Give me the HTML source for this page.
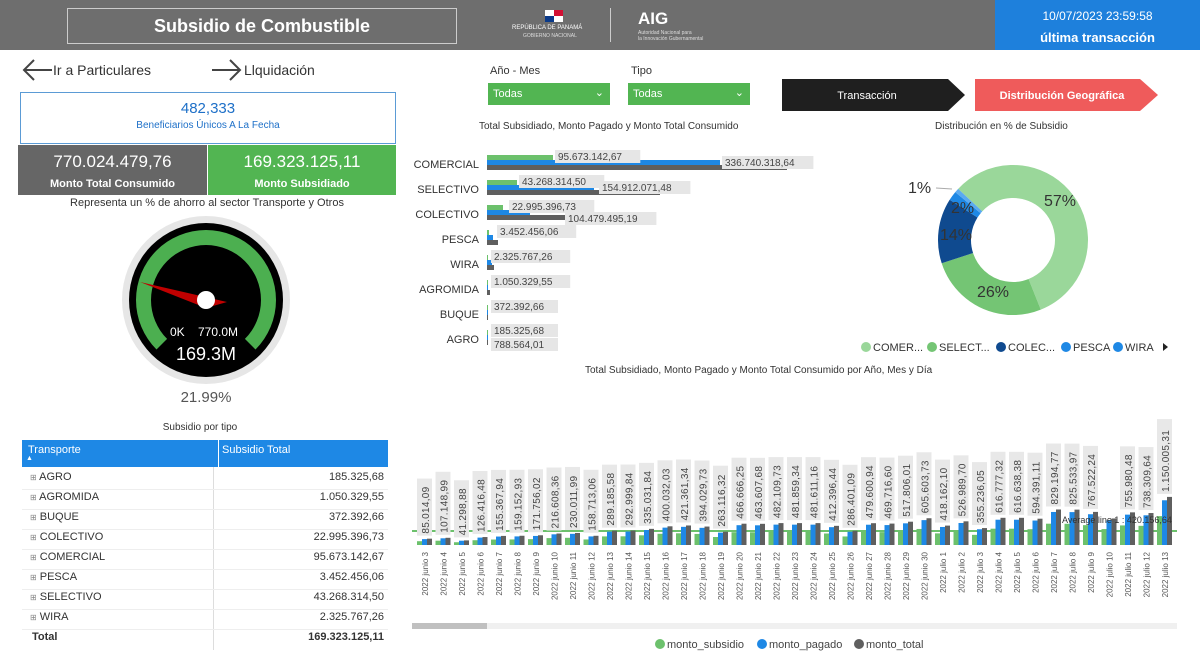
<!DOCTYPE html>
<html><head><meta charset="utf-8"><style>
*{margin:0;padding:0;box-sizing:border-box}
body{width:1200px;height:658px;position:relative;background:#fff;font-family:"Liberation Sans",sans-serif;overflow:hidden;color:#333}
.a{position:absolute;white-space:nowrap}
</style></head><body>
<div class="a" style="left:0;top:0;width:1200px;height:50px;background:#6e6e6e"></div>
<div class="a" style="left:67px;top:8px;width:390px;height:36px;border:1px solid #ccc;color:#fff;font-weight:bold;font-size:18px;text-align:center;line-height:34px">Subsidio de Combustible</div>
<div class="a" style="left:545px;top:10px;width:18px;height:12px;background:#fff"><div style="position:absolute;left:9px;top:0;width:9px;height:6px;background:#d21034"></div><div style="position:absolute;left:0;top:6px;width:9px;height:6px;background:#0a3a8a"></div></div>
<div class="a" style="left:512px;top:25px;color:#fff;font-size:6px">REPÚBLICA DE PANAMÁ</div>
<div class="a" style="left:523px;top:33px;color:#ddd;font-size:5px">GOBIERNO NACIONAL</div>
<div class="a" style="left:610px;top:8px;width:1px;height:34px;background:#ccc"></div>
<div class="a" style="left:638px;top:9px;color:#fff;font-size:17px;font-weight:bold">AIG</div>
<div class="a" style="left:638px;top:30px;color:#ddd;font-size:5px;line-height:6px">Autoridad Nacional para<br>la Innovación Gubernamental</div>
<div class="a" style="left:995px;top:0;width:205px;height:50px;background:#1e80dc;color:#fff;text-align:center"><div style="font-size:12px;margin-top:9px">10/07/2023 23:59:58</div><div style="font-size:13px;font-weight:bold;margin-top:7px">última transacción</div></div>

<svg class="a" style="left:20px;top:58px" width="230" height="26"><g stroke="#444" stroke-width="2" fill="none"><path d="M4 12 H32 M14 2 L4 12 L14 22"/><path d="M192 12 H220 M210 2 L220 12 L210 22"/></g></svg>
<div class="a" style="left:53px;top:62px;font-size:14px;color:#333">Ir a Particulares</div>
<div class="a" style="left:244px;top:62px;font-size:14px;color:#333">Llquidación</div>

<div class="a" style="left:20px;top:92px;width:376px;height:52px;border:1px solid #5b9bd5;text-align:center;color:#1e70c8"><div style="font-size:15px;margin-top:7px">482,333</div><div style="font-size:10px;margin-top:3px">Beneficiarios Únicos A La Fecha</div></div>
<div class="a" style="left:18px;top:145px;width:189px;height:50px;background:#666;color:#fff;text-align:center"><div style="font-size:17px;margin-top:7px">770.024.479,76</div><div style="font-size:11px;font-weight:bold;margin-top:6px">Monto Total Consumido</div></div>
<div class="a" style="left:208px;top:145px;width:188px;height:50px;background:#52b552;color:#fff;text-align:center"><div style="font-size:17px;margin-top:7px">169.323.125,11</div><div style="font-size:11px;font-weight:bold;margin-top:6px">Monto Subsidiado</div></div>
<div class="a" style="left:0;top:197px;width:414px;text-align:center;font-size:11px;color:#333">Representa un % de ahorro al sector Transporte y Otros</div>

<svg class="a" style="left:0;top:0" width="1200" height="658">
<circle cx="206" cy="300" r="84" fill="#e6e6e6"/>
<circle cx="206" cy="300" r="77" fill="#000"/>
<path d="M156.5 349.5 A70 70 0 1 1 255.5 349.5 L244.9 338.9 A55 55 0 1 0 167.1 338.9 Z" fill="#4caf50"/>
<polygon points="140,282 227,302 206,308" fill="#c00000"/>
<circle cx="206" cy="300" r="9" fill="#fff"/>
<text x="170" y="336" fill="#fff" font-size="12">0K</text><text x="198" y="336" fill="#fff" font-size="12">770.0M</text>
<text x="206" y="360" fill="#fff" font-size="18" text-anchor="middle">169.3M</text>
<text x="206" y="402" fill="#555" font-size="15" text-anchor="middle">21.99%</text>

<g transform="translate(1013,240) rotate(-137)" fill="none" stroke-width="33">
<circle r="58.5" stroke="#9ad79a" stroke-dasharray="209.5 367.6"/>
<circle r="58.5" stroke="#74c574" stroke-dasharray="0 209.5 95.6 367.6"/>
<circle r="58.5" stroke="#0f4a8f" stroke-dasharray="0 305.1 51.5 367.6"/>
<circle r="58.5" stroke="#1e88e5" stroke-dasharray="0 356.6 7.4 367.6"/>
<circle r="58.5" stroke="#5aaaf0" stroke-dasharray="0 364 3.6 367.6"/>
</g>
<path d="M936 188 L952 189" stroke="#aaa" stroke-width="1"/>
<text x="1044" y="206" font-size="16" fill="#333">57%</text>
<text x="977" y="297" font-size="16" fill="#333">26%</text>
<text x="940" y="240" font-size="16" fill="#333">14%</text>
<text x="951" y="213" font-size="16" fill="#333">2%</text>
<text x="908" y="193" font-size="16" fill="#333">1%</text>
<g font-size="11" fill="#333">
<circle cx="866" cy="347" r="5" fill="#9ad79a"/><text x="873" y="351">COMER...</text>
<circle cx="932" cy="347" r="5" fill="#74c574"/><text x="939" y="351">SELECT...</text>
<circle cx="1001" cy="347" r="5" fill="#0f4a8f"/><text x="1008" y="351">COLEC...</text>
<circle cx="1066" cy="347" r="5" fill="#1e88e5"/><text x="1073" y="351">PESCA</text>
<circle cx="1118" cy="347" r="5" fill="#1e88e5"/><text x="1125" y="351">WIRA</text>
<polygon points="1163,343 1163,351 1168,347" fill="#222"/>
</g>

<g id="hb"></g>
<g id="bc"></g>
</svg>

<div class="a" style="left:490px;top:65px;font-size:11px">Año - Mes</div>
<div class="a" style="left:631px;top:65px;font-size:11px">Tipo</div>
<div class="a" style="left:488px;top:83px;width:122px;height:22px;background:#52b552;color:#fff;font-size:11px;line-height:22px;padding-left:5px">Todas<span style="position:absolute;right:6px;top:-1px">⌄</span></div>
<div class="a" style="left:628px;top:83px;width:122px;height:22px;background:#52b552;color:#fff;font-size:11px;line-height:22px;padding-left:5px">Todas<span style="position:absolute;right:6px;top:-1px">⌄</span></div>
<svg class="a" style="left:780px;top:76px" width="390" height="38"><polygon points="2,3 168,3 185,19 168,35 2,35" fill="#1f1f1f"/><polygon points="195,3 360,3 378,19 360,35 195,35" fill="#ef5b5b"/>
<text x="87" y="23" fill="#fff" font-size="11" text-anchor="middle" font-family="Liberation Sans">Transacción</text>
<text x="282" y="23" fill="#fff" font-size="11" font-weight="bold" text-anchor="middle" font-family="Liberation Sans">Distribución Geográfica</text></svg>
<div class="a" style="left:479px;top:121px;font-size:10px">Total Subsidiado, Monto Pagado y Monto Total Consumido</div>
<div class="a" style="left:935px;top:121px;font-size:10px">Distribución en % de Subsidio</div>
<div class="a" style="left:585px;top:365px;font-size:10px">Total Subsidiado, Monto Pagado y Monto Total Consumido por Año, Mes y Día</div>

<div class="a" style="left:0;top:422px;width:400px;text-align:center;font-size:10px">Subsidio por tipo</div>
<div class="a" style="left:22px;top:440px;width:366px;height:27px;background:#1e88e5;color:#fff;font-size:11px">
<span style="position:absolute;left:6px;top:4px">Transporte</span><span style="position:absolute;left:4px;top:15px;font-size:7px">▲</span>
<span style="position:absolute;left:196px;top:0;width:1px;height:27px;background:#fff"></span>
<span style="position:absolute;left:200px;top:4px">Subsidio Total</span></div>
<div class="a" style="left:213px;top:467px;width:1px;height:183px;background:#ddd"></div>
<div id="tb"></div>

<script>
var rows=[["AGRO","185.325,68"],["AGROMIDA","1.050.329,55"],["BUQUE","372.392,66"],["COLECTIVO","22.995.396,73"],["COMERCIAL","95.673.142,67"],["PESCA","3.452.456,06"],["SELECTIVO","43.268.314,50"],["WIRA","2.325.767,26"]];
var h="";rows.forEach(function(r,i){var y=471+i*20;h+='<div class="a" style="left:30px;top:'+y+'px;font-size:11px;color:#333"><span style="font-size:8px;color:#888">⊞</span> '+r[0]+'</div><div class="a" style="left:214px;top:'+y+'px;width:170px;text-align:right;font-size:11px">'+r[1]+'</div><div class="a" style="left:22px;top:'+(y+18)+'px;width:366px;height:1px;background:#eee"></div>';});
h+='<div class="a" style="left:32px;top:631px;font-size:11px;font-weight:bold">Total</div><div class="a" style="left:214px;top:631px;width:170px;text-align:right;font-size:11px;font-weight:bold">169.323.125,11</div>';
document.getElementById("tb").innerHTML=h;
var NS="http://www.w3.org/2000/svg";
function el(p,t,a,txt){var e=document.createElementNS(NS,t);for(var k in a)e.setAttribute(k,a[k]);if(txt)e.textContent=txt;p.appendChild(e);return e;}
var hb=document.getElementById("hb");
var cats=[["COMERCIAL",66,233,300,["95.673.142,67",555,157],["336.740.318,64",722,163]],["SELECTIVO",30,107,173,["43.268.314,50",519,182],["154.912.071,48",599,188]],["COLECTIVO",16,43,79,["22.995.396,73",509,207],["104.479.495,19",565,219]],["PESCA",2,6,11,["3.452.456,06",497,232]],["WIRA",1,5,7,["2.325.767,26",491,257]],["AGROMIDA",1,1,3,["1.050.329,55",491,282]],["BUQUE",1,1,1,["372.392,66",491,307]],["AGRO",1,1,1,["185.325,68",491,331],["788.564,01",491,345]]];
cats.forEach(function(c,i){var y=163+i*25;el(hb,"text",{x:479,y:y+5,"font-size":11,"text-anchor":"end",fill:"#333"},c[0]);
el(hb,"rect",{x:487,y:y-8,width:c[1],height:5,fill:"#6cc16c"});el(hb,"rect",{x:487,y:y-3,width:c[2],height:5,fill:"#1e88e5"});el(hb,"rect",{x:487,y:y+2,width:c[3],height:5,fill:"#5f5f5f"});
for(var j=4;j<c.length;j++){var L=c[j];el(hb,"rect",{x:L[1],y:L[2]-7,width:L[0].length*6.1+6,height:13,fill:"#e6e6e6"});el(hb,"text",{x:L[1]+3,y:L[2]+3,"font-size":10,fill:"#444"},L[0]);}});
var bc=document.getElementById("bc");
var vals=["85.014,09","107.148,99","41.298,88","126.416,48","155.367,94","159.152,93","171.756,02","216.608,36","230.011,99","158.713,06","289.185,58","292.999,84","335.031,84","400.032,03","421.361,34","394.029,73","263.116,32","466.666,25","463.607,68","482.109,73","481.859,34","481.611,16","412.396,44","286.401,09","479.600,94","469.716,60","517.806,01","605.603,73","418.162,10","526.989,70","355.236,05","616.777,32","616.638,38","594.391,11","829.194,77","825.533,97","767.522,24","","755.980,48","738.309,64","1.150.005,31"];
var base=545;
el(bc,"rect",{x:412,y:530,width:765,height:2,fill:"#6cc16c"});
for(var i=0;i<41;i++){var cx=425+i*18.5;var s=vals[i]||"600.000,00";var v=parseFloat(s.replace(/\./g,"").replace(",","."));var hg=v/25500+3;
el(bc,"rect",{x:cx-8,y:base-hg*0.6,width:5,height:hg*0.6,fill:"#6cc16c"});el(bc,"rect",{x:cx-3,y:base-hg*0.93,width:5,height:hg*0.93,fill:"#1e88e5"});el(bc,"rect",{x:cx+2,y:base-hg,width:5,height:hg,fill:"#5f5f5f"});
if(vals[i]){var tl=vals[i].length*5.9+4;var ty=base-hg-3;el(bc,"rect",{x:cx-8,y:ty-tl,width:15,height:tl,fill:"#e8e8e8"});el(bc,"text",{transform:"translate("+(cx+4)+","+(ty-2)+") rotate(-90)","font-size":10,fill:"#444","letter-spacing":"0.3"},vals[i]);}
var d=i<28?("2022 junio "+(i+3)):("2022 julio "+(i-27));
el(bc,"text",{transform:"translate("+(cx+3)+",552) rotate(-90)","font-size":8,fill:"#555","text-anchor":"end"},d);}
el(bc,"text",{x:1062,y:523,"font-size":9,fill:"#333"},"Average line 1 : 420.156,64");
el(bc,"rect",{x:412,y:623,width:765,height:6,fill:"#f0f0f0"});el(bc,"rect",{x:412,y:623,width:75,height:6,fill:"#c0c0c0"});
var lg=[["#6cc16c","monto_subsidio",660],["#1e88e5","monto_pagado",762],["#5f5f5f","monto_total",859]];
lg.forEach(function(l){el(bc,"circle",{cx:l[2],cy:644,r:5,fill:l[0]});el(bc,"text",{x:l[2]+7,y:648,"font-size":11,fill:"#444"},l[1]);});
</script>
</body></html>
